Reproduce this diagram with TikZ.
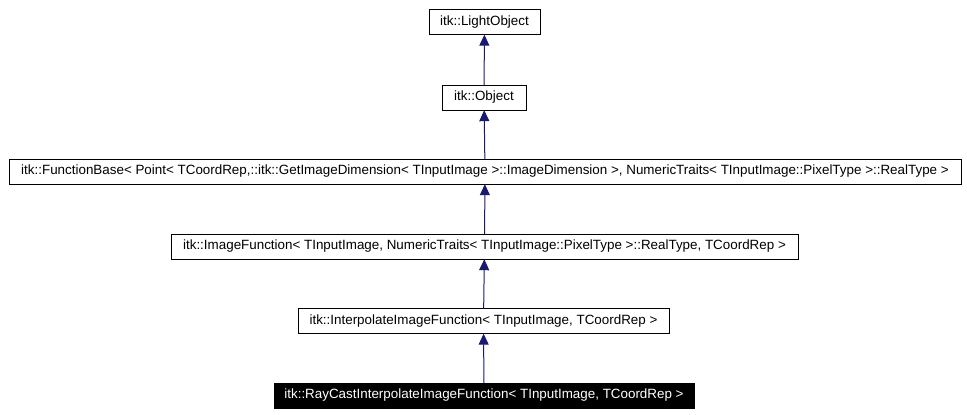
\documentclass[tikz,border=0pt]{standalone}
\usepackage{fontspec}
\setmainfont{Liberation Sans}
\usetikzlibrary{arrows.meta}
\definecolor{edge}{HTML}{191970}
\tikzset{cls/.style={draw=black, fill=white, font=\fontsize{13.4}{15}\selectfont, inner sep=0pt, minimum height=25pt, anchor=center}}
\tikzset{cur/.style={cls, fill=black, text=white}}
\tikzset{inh/.style={edge, line width=1pt, -{Triangle[length=11pt, width=10pt]}}}
\begin{document}
\begin{tikzpicture}[x=1pt, y=-1pt]
		\useasboundingbox (0,0) rectangle (967,415);
		% Classes
		\node[cls, minimum width=111pt] (light) at (484.5,22) {itk::LightObject};
		\node[cls, minimum width=84pt] (obj) at (484,97.5) {itk::Object};
		\node[cls, minimum width=952pt] (fbase) at (485,171.5) {itk::FunctionBase< Point< TCoordRep,::itk::GetImageDimension< TInputImage >::ImageDimension >, NumericTraits< TInputImage::PixelType >::RealType >};
		\node[cls, minimum width=627pt] (imgf) at (484.5,246.5) {itk::ImageFunction< TInputImage, NumericTraits< TInputImage::PixelType >::RealType, TCoordRep >};
		\node[cls, minimum width=371pt] (interp) at (483.5,321) {itk::InterpolateImageFunction< TInputImage, TCoordRep >};
		\node[cur, minimum width=420pt] (ray) at (484,395.5) {itk::RayCastInterpolateImageFunction< TInputImage, TCoordRep >};

		% Inheritance
		\draw[inh] (obj) -- (light);
		\draw[inh] (fbase) -- (obj);
		\draw[inh] (imgf) -- (fbase);
		\draw[inh] (interp) -- (imgf);
		\draw[inh] (ray) -- (interp);
	\end{tikzpicture}
\end{document}
